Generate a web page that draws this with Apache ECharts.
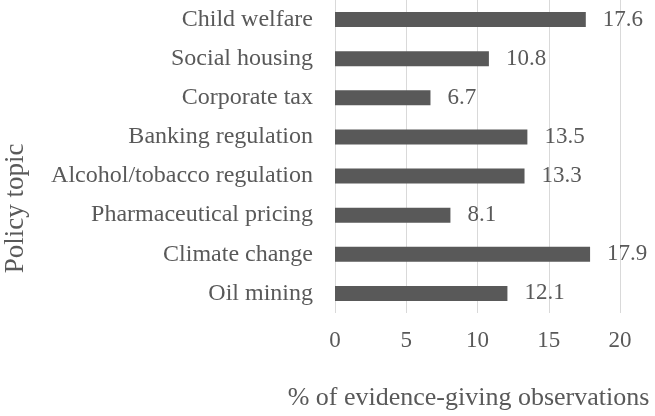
<!DOCTYPE html>
<html>
<head>
<meta charset="utf-8">
<script src="https://cdn.jsdelivr.net/npm/echarts@6/dist/echarts.min.js"></script>
<style>
  html, body { margin: 0; padding: 0; background: #fff; }
  #chart { width: 655px; height: 416px; }
</style>
</head>
<body>
<div id="chart"></div>
<script>
// policy topics, top to bottom as shown
const topics = [
  "Child welfare",
  "Social housing",
  "Corporate tax",
  "Banking regulation",
  "Alcohol/tobacco regulation",
  "Pharmaceutical pricing",
  "Climate change",
  "Oil mining"
];
const shares = [17.6, 10.8, 6.7, 13.5, 13.3, 8.1, 17.9, 12.1];
const xTicks = [0, 5, 10, 15, 20];

const font = "'Liberation Serif', 'Times New Roman', serif";
const textColor = "#595959";

const chart = echarts.init(document.getElementById("chart"));

const options = {
  animation: false,
  grid: { left: 335, right: 35, top: 0, bottom: 103, outerBoundsMode: "none" },
  xAxis: {
    type: "value",
    min: xTicks[0],
    max: xTicks[xTicks.length - 1],
    interval: 5,
    name: "% of evidence-giving observations",
    nameLocation: "middle",
    nameGap: 72,
    nameTextStyle: {
      fontFamily: font, fontSize: 26, color: textColor,
      padding: [0, 18, 0, 0]
    },
    axisLine: { show: false },
    axisTick: { show: false },
    axisLabel: { fontFamily: font, fontSize: 23, color: textColor, margin: 16 },
    splitLine: { show: true, lineStyle: { color: "#d9d9d9", width: 1 } }
  },
  yAxis: {
    type: "category",
    data: topics,
    inverse: true,
    name: "Policy topic",
    nameLocation: "middle",
    nameRotate: 90,
    nameGap: 306,
    nameTextStyle: {
      fontFamily: font, fontSize: 27, color: textColor,
      padding: [0, 104, 0, 0]
    },
    axisLine: { show: false },
    axisTick: { show: false },
    axisLabel: { fontFamily: font, fontSize: 24, color: textColor, margin: 22, interval: 0 }
  },
  series: [
    {
      type: "bar",
      data: shares,
      barWidth: 15,
      itemStyle: { color: "#595959" },
      label: {
        show: true,
        position: "right",
        distance: 17,
        fontFamily: font,
        fontSize: 23,
        color: textColor
      }
    }
  ]
};

chart.setOption(options);
</script>
</body>
</html>
